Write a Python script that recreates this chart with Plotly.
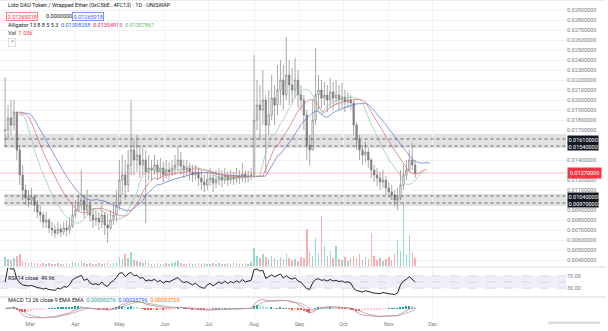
import plotly.graph_objects as go
import pandas as pd

# ---------------- data (2-day candles) ----------------
start_date = "2022-02-12"
close = [0.0170,0.0182,0.0175,0.0188,0.0150,0.0125,0.0110,0.0102,0.0100,0.0103,
         0.0095,0.0088,0.0085,0.0078,0.0080,0.0072,0.0070,0.0067,0.0071,0.0068,
         0.0072,0.0070,0.0074,0.0085,0.0090,0.0095,0.0100,0.0090,0.0095,0.0085,
         0.0080,0.0082,0.0078,0.0085,0.0075,0.0072,0.0080,0.0085,0.0095,0.0120,
         0.0125,0.0115,0.0135,0.0150,0.0140,0.0145,0.0135,0.0140,0.0128,0.0132,
         0.0130,0.0135,0.0128,0.0132,0.0125,0.0130,0.0128,0.0132,0.0135,0.0140,
         0.0134,0.0130,0.0132,0.0128,0.0125,0.0128,0.0122,0.0118,0.0115,0.0120,
         0.0122,0.0117,0.0120,0.0123,0.0120,0.0124,0.0120,0.0123,0.0121,0.0124,
         0.0122,0.0126,0.0123,0.0124,0.0125,0.0180,0.0195,0.0190,0.0200,0.0175,
         0.0185,0.0202,0.0195,0.0210,0.0220,0.0205,0.0225,0.0215,0.0210,0.0220,
         0.0205,0.0200,0.0185,0.0155,0.0150,0.0180,0.0205,0.0210,0.0202,0.0205,
         0.0200,0.0208,0.0202,0.0205,0.0200,0.0203,0.0198,0.0200,0.0197,0.0175,
         0.0160,0.0150,0.0145,0.0148,0.0140,0.0130,0.0125,0.0122,0.0118,0.0120,
         0.0112,0.0108,0.0105,0.0100,0.0102,0.0115,0.0125,0.0130,0.0140,0.0135,
         0.0127]
high = [0.0223,0.0195,0.0200,0.0200,0.0180,0.0155,0.0135,0.0115,0.0110,0.0112,
        0.0105,0.0100,0.0095,0.0088,0.0088,0.0082,0.0078,0.0075,0.0078,0.0075,
        0.0078,0.0080,0.0083,0.0095,0.0100,0.0105,0.0130,0.0105,0.0110,0.0100,
        0.0092,0.0090,0.0088,0.0095,0.0088,0.0085,0.0090,0.0095,0.0110,0.0140,
        0.0145,0.0140,0.0150,0.0200,0.0160,0.0165,0.0155,0.0152,0.0150,0.0145,
        0.0140,0.0145,0.0140,0.0142,0.0138,0.0140,0.0138,0.0140,0.0145,0.0153,
        0.0148,0.0140,0.0140,0.0137,0.0135,0.0135,0.0132,0.0130,0.0125,0.0128,
        0.0132,0.0128,0.0130,0.0132,0.0130,0.0132,0.0128,0.0130,0.0128,0.0132,
        0.0130,0.0137,0.0130,0.0130,0.0132,0.0245,0.0220,0.0215,0.0230,0.0205,
        0.0210,0.0225,0.0215,0.0235,0.0240,0.0235,0.0263,0.0240,0.0232,0.0242,
        0.0230,0.0215,0.0205,0.0190,0.0165,0.0200,0.0252,0.0225,0.0220,0.0218,
        0.0215,0.0222,0.0218,0.0220,0.0215,0.0217,0.0210,0.0208,0.0205,0.0200,
        0.0178,0.0165,0.0155,0.0158,0.0152,0.0142,0.0135,0.0132,0.0128,0.0130,
        0.0124,0.0118,0.0115,0.0110,0.0112,0.0130,0.0135,0.0140,0.0150,0.0157,
        0.0140]
low = [0.0153,0.0160,0.0165,0.0170,0.0140,0.0115,0.0100,0.0095,0.0093,0.0095,
       0.0088,0.0082,0.0078,0.0072,0.0072,0.0067,0.0064,0.0062,0.0065,0.0063,
       0.0065,0.0064,0.0066,0.0072,0.0082,0.0088,0.0090,0.0082,0.0085,0.0078,
       0.0072,0.0074,0.0070,0.0072,0.0065,0.0057,0.0070,0.0075,0.0078,0.0090,
       0.0105,0.0100,0.0108,0.0125,0.0125,0.0128,0.0122,0.0125,0.0077,0.0120,
       0.0120,0.0125,0.0120,0.0122,0.0118,0.0122,0.0120,0.0124,0.0125,0.0128,
       0.0125,0.0122,0.0124,0.0120,0.0118,0.0120,0.0114,0.0110,0.0108,0.0110,
       0.0114,0.0108,0.0112,0.0115,0.0113,0.0116,0.0114,0.0116,0.0115,0.0117,
       0.0116,0.0118,0.0117,0.0118,0.0120,0.0122,0.0170,0.0160,0.0175,0.0127,
       0.0165,0.0180,0.0175,0.0185,0.0195,0.0190,0.0200,0.0195,0.0197,0.0202,
       0.0192,0.0190,0.0170,0.0140,0.0135,0.0150,0.0175,0.0190,0.0192,0.0195,
       0.0188,0.0192,0.0190,0.0195,0.0190,0.0192,0.0188,0.0192,0.0190,0.0165,
       0.0150,0.0140,0.0135,0.0138,0.0132,0.0122,0.0118,0.0114,0.0110,0.0112,
       0.0105,0.0102,0.0100,0.0094,0.0090,0.0100,0.0110,0.0120,0.0128,0.0130,
       0.0122]
volume = [9,7,6,8,10,12,
          5,4,3,4,3,3,2,3,2,3,2,2,3,2,2,3,2,
          4,3,3,5,
          3,2,3,2,2,3,2,3,4,2,3,4,
          9,7,12,8,14,6,5,4,
          3,5,3,2,2,3,2,2,3,2,3,4,5,3,2,2,3,2,2,3,2,3,2,2,3,2,3,2,2,3,2,4,3,2,2,3,2,4,
          18,10,8,12,9,7,10,8,6,9,7,12,8,6,7,5,9,8,36,14,10,28,
          12,49,20,10,15,8,20,7,6,9,5,8,
          10,8,12,6,9,7,33,10,6,8,5,7,9,6,12,26,
          15,61,12,31,14,8]

month_ticks = ["2022-03-01","2022-04-01","2022-05-01","2022-06-01","2022-07-01",
               "2022-08-01","2022-09-01","2022-10-01","2022-11-01","2022-12-01"]
month_labels = ["Mar","Apr","May","Jun","Jul","Aug","Sep","Oct","Nov","Dec"]
price_ticks = [0.029,0.028,0.027,0.026,0.025,0.024,0.023,0.022,0.021,0.020,0.019,0.018,
               0.017,0.014,0.012,0.011,0.009,0.008,0.007,0.006,0.005,0.004]

upper_zone = [0.0152, 0.0166]
lower_zone = [0.0094, 0.0106]
zone_labels = [0.0161, 0.0154, 0.0104, 0.0097]

# ---------------- derived series ----------------
dates = pd.date_range(start_date, periods=len(close), freq="2D")
opens = [close[0]] + close[:-1]
hi = [max(h, o, c) for h, o, c in zip(high, opens, close)]
lo = [min(l, o, c) for l, o, c in zip(low, opens, close)]

s = pd.Series(close)
hl2 = (pd.Series(hi) + pd.Series(lo)) / 2
def smma(x, n):
    return x.ewm(alpha=1.0 / n, adjust=False).mean()
jaw, teeth, lips = smma(hl2, 12), smma(hl2, 8), smma(hl2, 5)
sh = lambda k: dates + pd.Timedelta(days=2 * k)

d = s.diff()
up = d.clip(lower=0).ewm(alpha=1/7, adjust=False).mean()
dn = (-d.clip(upper=0)).ewm(alpha=1/7, adjust=False).mean()
rsi = 100 - 100 / (1 + up / dn.replace(0, 1e-9))
rsi.iloc[0] = 50

macd = s.ewm(span=6, adjust=False).mean() - s.ewm(span=13, adjust=False).mean()
signal = macd.ewm(span=5, adjust=False).mean()
hist = macd - signal
hcol = []
for i, v in enumerate(hist):
    prev = hist.iloc[i - 1] if i > 0 else v
    if v >= 0:
        hcol.append("#26A69A" if v >= prev else "#B2DFDB")
    else:
        hcol.append("#FF5252" if v < prev else "#FFCDD2")

vcol = ["rgba(38,166,154,0.45)" if c >= o else "rgba(239,83,80,0.45)" for c, o in zip(close, opens)]

# ---------------- figure ----------------
fig = go.Figure()
fig.add_trace(go.Bar(x=dates, y=volume, marker=dict(color=vcol, line=dict(width=0)),
                     width=2 * 86400000 * 0.5, xaxis="x", yaxis="y", hoverinfo="skip"))
fig.add_trace(go.Candlestick(x=dates, open=opens, high=hi, low=lo, close=close,
                             increasing=dict(line=dict(color="#707070", width=0.6), fillcolor="#ffffff"),
                             decreasing=dict(line=dict(color="#707070", width=0.6), fillcolor="#8a8a8a"),
                             whiskerwidth=0, xaxis="x", yaxis="y2", hoverinfo="skip"))
fig.add_trace(go.Scatter(x=sh(5), y=jaw, mode="lines", line=dict(color="#5470d6", width=0.7),
                         xaxis="x", yaxis="y2", hoverinfo="skip"))
fig.add_trace(go.Scatter(x=sh(4), y=teeth, mode="lines", line=dict(color="#d9657a", width=0.7),
                         xaxis="x", yaxis="y2", hoverinfo="skip"))
fig.add_trace(go.Scatter(x=sh(3), y=lips, mode="lines", line=dict(color="#8fc99a", width=0.7),
                         xaxis="x", yaxis="y2", hoverinfo="skip"))
fig.add_trace(go.Scatter(x=dates, y=rsi, mode="lines", line=dict(color="#222222", width=1),
                         xaxis="x", yaxis="y3", hoverinfo="skip"))
fig.add_trace(go.Bar(x=dates, y=hist, marker=dict(color=hcol, line=dict(width=0)),
                     width=2 * 86400000 * 0.5, xaxis="x", yaxis="y4", hoverinfo="skip"))
fig.add_trace(go.Scatter(x=dates, y=macd, mode="lines", line=dict(color="#d9657a", width=0.7),
                         xaxis="x", yaxis="y4", hoverinfo="skip"))
fig.add_trace(go.Scatter(x=dates, y=signal, mode="lines", line=dict(color="#9aa0ad", width=0.7),
                         xaxis="x", yaxis="y4", hoverinfo="skip"))

H = 319.0
def py(p):
    return 1 - p / H

grid = "#f0f2f6"
tf = dict(family="Roboto", size=5.5, color="#787b86")
fig.update_layout(
    width=608, height=331, margin=dict(l=0, r=42, t=0, b=12),
    paper_bgcolor="white", plot_bgcolor="white", showlegend=False, bargap=0,
    font=dict(family="Roboto", size=5.5, color="#131722"),
    xaxis=dict(anchor="y4", domain=[0, 1], range=["2022-02-08 12:00", "2023-03-02"],
               tickvals=month_ticks, ticktext=month_labels, tickfont=tf, showgrid=True,
               gridcolor=grid, gridwidth=0.6, zeroline=False, showline=False, ticks="",
               rangeslider=dict(visible=False)),
    yaxis=dict(domain=[py(266), 1], range=[0, max(volume) * 4.3], visible=False, showgrid=False),
    yaxis2=dict(domain=[py(266), 1], overlaying="y", range=[0.0034, 0.0300], side="right",
                anchor="x", tickvals=price_ticks, tickformat=".8f", tickfont=tf,
                showgrid=True, gridcolor=grid, gridwidth=0.6, zeroline=False, ticks=""),
    yaxis3=dict(domain=[py(296), py(268)], range=[5, 95], anchor="x", side="right",
                tickvals=[70, 30], ticktext=["70.00", "30.00"], tickfont=tf,
                showgrid=False, zeroline=False, ticks=""),
    yaxis4=dict(domain=[0, py(298)], anchor="x", side="right", showticklabels=False,
                showgrid=False, zeroline=False, ticks=""),
)

shapes = []
for z in (upper_zone, lower_zone):
    shapes.append(dict(type="rect", xref="paper", yref="y2", x0=0.008, x1=1, y0=z[0], y1=z[1],
                       fillcolor="rgba(160,160,160,0.3)", line=dict(width=0), layer="below"))
for lv in zone_labels:
    shapes.append(dict(type="line", xref="paper", yref="y2", x0=0.008, x1=1, y0=lv, y1=lv,
                       line=dict(color="#333333", width=0.7, dash="dot")))
shapes.append(dict(type="line", xref="paper", yref="y2", x0=0, x1=1, y0=close[-1], y1=close[-1],
                   line=dict(color="rgba(242,54,69,0.5)", width=0.6)))
# RSI band
shapes.append(dict(type="rect", xref="paper", yref="y3", x0=0, x1=1, y0=30, y1=70,
                   fillcolor="rgba(126,87,194,0.10)", line=dict(width=0), layer="below"))
for lv in (70, 50, 30):
    shapes.append(dict(type="line", xref="paper", yref="y3", x0=0, x1=1, y0=lv, y1=lv,
                       line=dict(color="rgba(120,123,134,0.45)", width=0.5, dash="dash")))
# pane separators
for p in (267, 297):
    shapes.append(dict(type="line", xref="paper", yref="paper", x0=0, x1=1.07, y0=py(p), y1=py(p),
                       line=dict(color="#d6d8de", width=1)))
shapes.append(dict(type="line", xref="paper", yref="paper", x0=0, x1=1.07, y0=1.0, y1=1.0,
                   line=dict(color="#d6d8de", width=1)))
# time-scale scroller
shapes.append(dict(type="rect", xref="paper", yref="paper", x0=548/566, x1=600/566,
                   y0=py(324), y1=py(321.5), fillcolor="#d9dbe0", line=dict(width=0)))
fig.update_layout(shapes=shapes)

ann = []
def txt(x, y, t, color="#131722", size=5.5, **kw):
    ann.append(dict(xref="paper", yref="paper", x=x / 566, y=py(y), text=t, showarrow=False,
                    xanchor="left", yanchor="middle", font=dict(family="Roboto", size=size, color=color), **kw))
txt(6, 6, "Lido DAO Token / Wrapped Ether (0xC5bE…4FC13) · 1D · UNISWAP")
txt(6, 16, "0.01265018", color="#F23645", bordercolor="#F23645", borderwidth=0.6, borderpad=1)
txt(44, 16, "0.0000000", color="#131722")
txt(72, 16, "0.01265918", color="#2962FF", bordercolor="#2962FF", borderwidth=0.6, borderpad=1)
txt(6, 25, "Alligator 13 8 8 5 5 3  <span style='color:#2962FF'>0.01398258</span>  "
          "<span style='color:#E91E63'>0.01354913</span>  <span style='color:#66BB6A'>0.01307861</span>",
    color="#131722")
txt(6, 33, "Vol  <span style='color:#F23645'>1.036</span>")
txt(8, 42, "⌃", color="#555555", bordercolor="#cfd1d6", borderwidth=0.6, borderpad=1)
txt(6, 278, "RSI 14 close  49.96")
txt(6, 300, "MACD 12 26 close 9 EMA EMA  <span style='color:#26A69A'>0.00000076</span>  "
            "<span style='color:#2962FF'>0.00033796</span>  <span style='color:#FF6D00'>0.00033720</span>")
# price labels on the axis
for lv in zone_labels:
    ann.append(dict(xref="paper", yref="y2", x=1, y=lv, xanchor="left", yanchor="middle",
                    text="%.8f" % lv, showarrow=False, bgcolor="#131722", xshift=1,
                    font=dict(family="Roboto", size=5.5, color="white"), borderpad=0.5))
ann.append(dict(xref="paper", yref="y2", x=1, y=close[-1], xanchor="left", yanchor="middle",
                text="%.8f" % close[-1], showarrow=False, bgcolor="#F23645", xshift=1,
                font=dict(family="Roboto", size=5.5, color="white"), borderpad=2))
fig.update_layout(annotations=ann)

fig.write_html("out.html")
